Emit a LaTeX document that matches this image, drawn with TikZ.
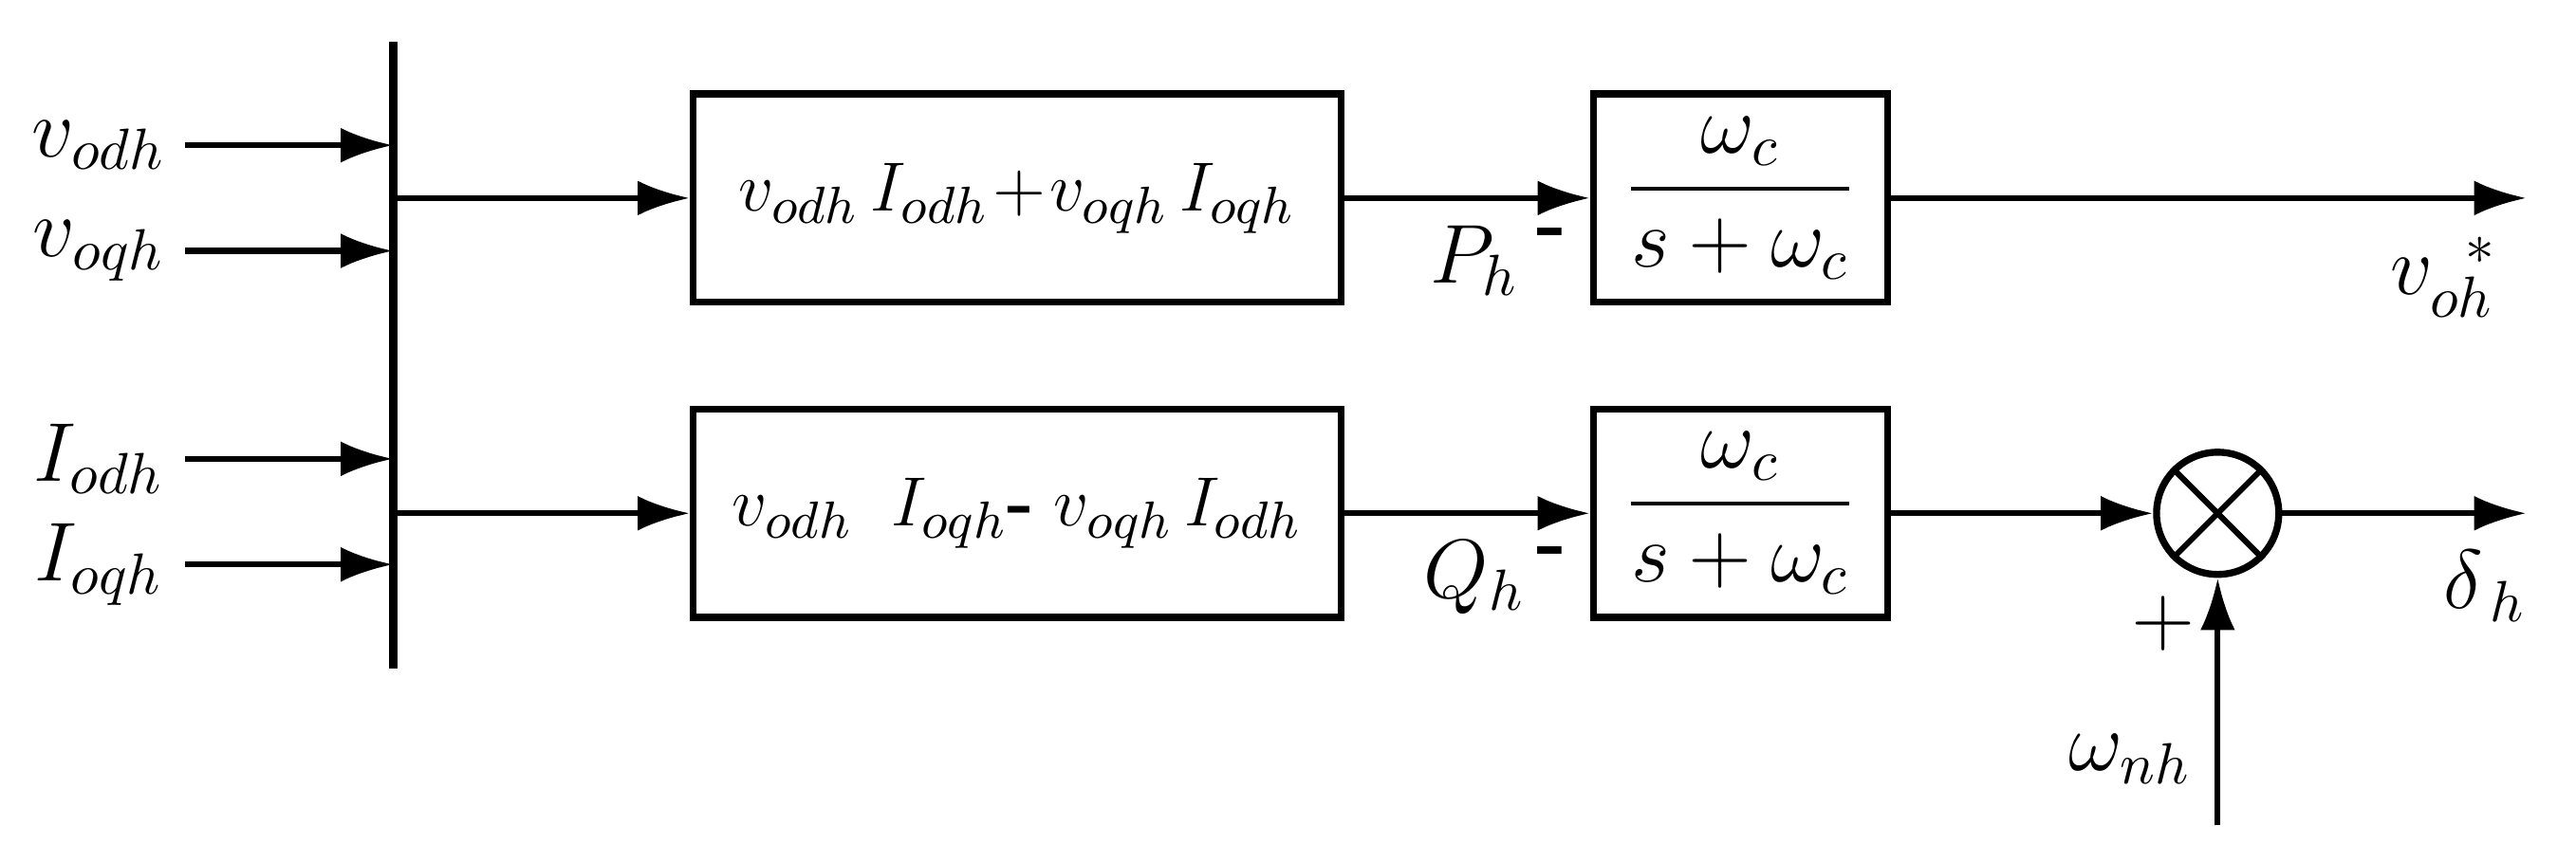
\documentclass[tikz,border=0pt]{standalone}
\usepackage{amsmath}
\usetikzlibrary{arrows.meta}
\begin{document}
\begin{tikzpicture}[x=0.01cm,y=-0.01cm,
 every node/.style={font=\fontsize{14}{16}\selectfont},
 blk/.style={draw,line width=1.2pt,minimum width=3.92cm,minimum height=1.26cm,inner sep=0,font=\fontsize{12.5}{15}\selectfont},
 flt/.style={draw,line width=1.2pt,minimum width=1.78cm,minimum height=1.26cm,inner sep=0},
 arr/.style={line width=1pt,-{Latex[length=9pt,width=6pt]}},
 ln/.style={line width=1pt}]
\useasboundingbox (0,0) rectangle (1560,511);
\coordinate (bt) at (238,25); \coordinate (bb) at (238,405);
\draw[line width=1.5pt] (bt) -- (bb);
\node (l1) at (60,88) {$v_{odh}$};
\node (l2) at (60,152) {$v_{oqh}$};
\node (l3) at (60,278) {$I_{odh}$};
\node (l4) at (60,342) {$I_{oqh}$};
\foreach \y/\n in {88/a,152/b,278/c,342/d}{
 \coordinate (s\n) at (112,\y); \coordinate (e\n) at (238,\y);
 \draw[arr] (s\n) -- (e\n);}
\node[blk] (B1) at (616,120) {$v_{odh}\,I_{odh}\!+\!v_{oqh}\,I_{oqh}$};
\node[blk] (B2) at (616,311) {$v_{odh}\;\;I_{oqh}\textbf{-}\;v_{oqh}\,I_{odh}$};
\coordinate (o1) at (238,120); \coordinate (o2) at (238,311);
\draw[arr] (o1) -- (B1.west);
\draw[arr] (o2) -- (B2.west);
\node[flt] (F1) at (1054,120) {$\dfrac{\omega_c}{s+\omega_c}$};
\node[flt] (F2) at (1054,311) {$\dfrac{\omega_c}{s+\omega_c}$};
\draw[arr] (B1.east) -- (F1.west);
\draw[arr] (B2.east) -- (F2.west);
\node (P) at (893,158) {$P_h$};
\node (m1) at (940,145) {\textbf{-}};
\node (Q) at (893,350) {$Q_h$};
\node (m2) at (940,338) {\textbf{-}};
\coordinate (out1) at (1530,120);
\draw[arr] (F1.east) -- (out1);
\node (vo) at (1480,168) {$v_{oh}^{\;\;*}$};
\node[draw,circle,line width=1.2pt,minimum size=0.74cm,inner sep=0] (X) at (1343,311) {};
\draw[line width=1pt] (X.45) -- (X.225) (X.135) -- (X.315);
\draw[arr] (F2.east) -- (X.west);
\coordinate (out2) at (1530,311);
\draw[arr] (X.east) -- (out2);
\node (d) at (1505,355) {$\delta_{\,h}$};
\coordinate (wn) at (1343,500);
\draw[arr] (wn) -- (X.south);
\node (w) at (1290,460) {$\omega_{nh}$};
\node (pl) at (1310,378) {$+$};
\end{tikzpicture}
\end{document}
